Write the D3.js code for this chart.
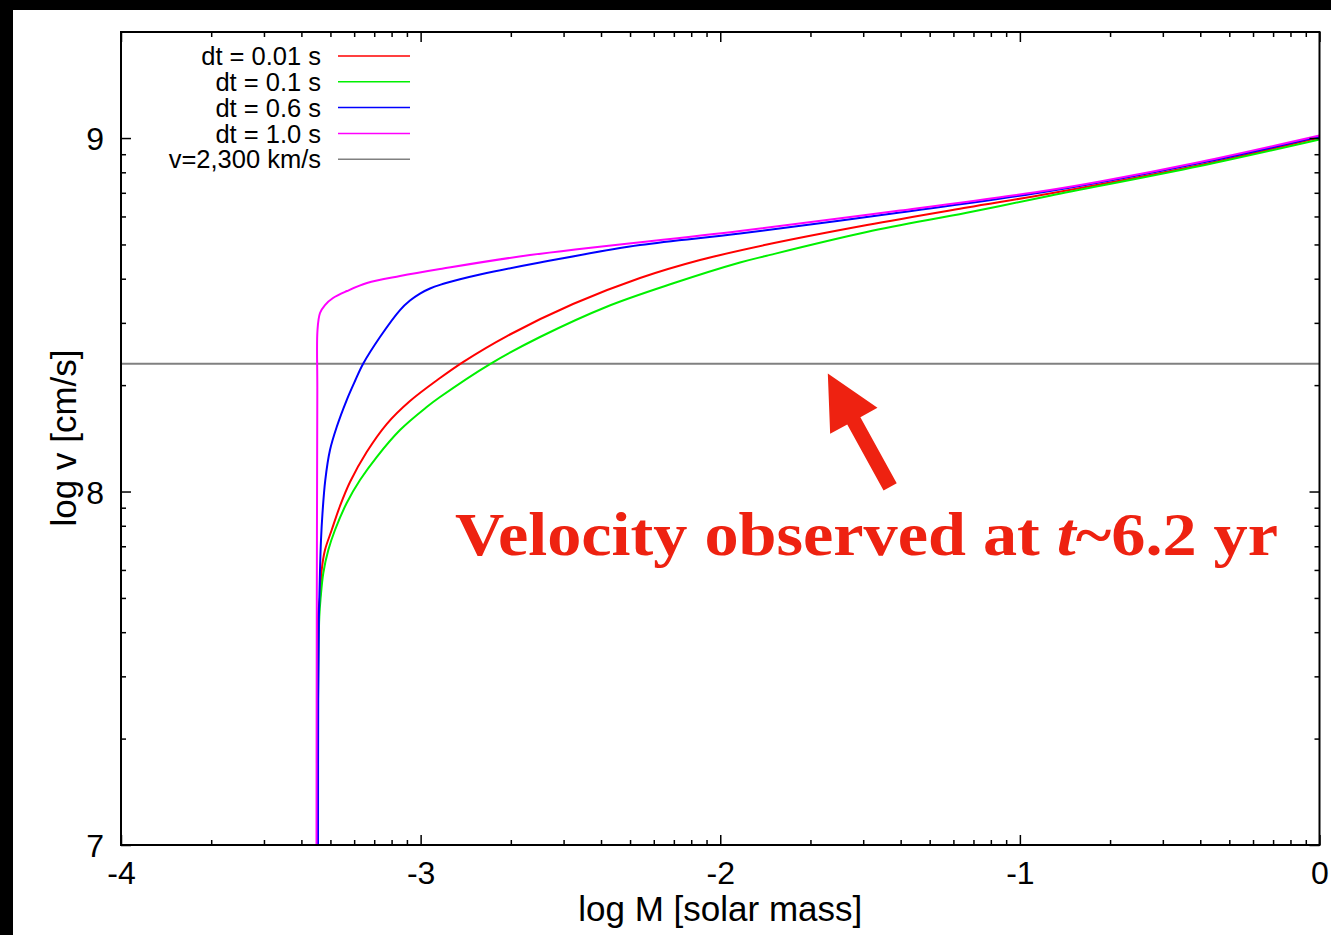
<!DOCTYPE html>
<html>
<head>
<meta charset="utf-8">
<style>
  html, body { margin: 0; padding: 0; background: #000; }
  svg { display: block; }
  text { font-family: "Liberation Sans", Arial, Helvetica, sans-serif; fill: #000; }
</style>
<title>log v vs log M</title>
</head>
<body>
<svg id="chart" width="1331" height="935"></svg>
<script src="https://cdn.jsdelivr.net/npm/d3@7/dist/d3.min.js"></script>
<script>
// axis ticks
var xMajor = [-4, -3, -2, -1, 0];
var yMajor = [7, 8, 9];
var legendLabels = ["dt = 0.01 s", "dt = 0.1 s", "dt = 0.6 s", "dt = 1.0 s", "v=2,300 km/s"];
var lineColors = ["#ff0000", "#00f000", "#0000ff", "#ff00ff", "#808080"];

// series: [log M, log v]
var dt001 = [[-3.3442,7],[-3.3435,7.4102],[-3.3415,7.6563],[-3.3358,7.7016],[-3.3302,7.7779],[-3.3192,7.8345],
  [-3.2968,7.8911],[-3.2691,7.9590],[-3.2357,8.0269],[-3.1800,8.1117],[-3.1132,8.1909],[-3.0355,8.2560],
  [-2.9353,8.3211],[-2.8586,8.3663],[-2.7117,8.4399],[-2.4915,8.5304],[-2.2678,8.6040],[-2.0676,8.6549],
  [-1.8440,8.6987],[-1.5102,8.7539],[-1.1765,8.8034],[-0.8995,8.8430],[-0.3988,8.9236],[0,9.0014]];
var dt01 = [[-3.3435,7],[-3.3425,7.4102],[-3.3382,7.6450],[-3.3335,7.7016],[-3.3248,7.7695],[-3.3081,7.8345],
  [-3.2858,7.8911],[-3.2467,7.9675],[-3.2023,8.0325],[-3.1466,8.0976],[-3.0688,8.1740],[-2.9797,8.2390],
  [-2.9353,8.2673],[-2.7685,8.3607],[-2.6016,8.4371],[-2.3790,8.5228],[-2.1567,8.5890],[-1.9341,8.6478],
  [-1.8450,8.6670],[-1.5112,8.7341],[-1.1775,8.7887],[-0.8995,8.8368],[-0.3988,8.9208],[0,8.9958]];
var dt06 = [[-3.3425,7],[-3.3418,7.4102],[-3.3398,7.6365],[-3.3358,7.7779],[-3.3325,7.8628],[-3.3275,7.9392],
  [-3.3182,8.0325],[-3.3025,8.1174],[-3.2801,8.1825],[-3.2467,8.2588],[-3.2190,8.3126],[-3.1923,8.3607],
  [-3.1356,8.4371],[-3.0688,8.5134],[-3.0355,8.5403],[-3.0021,8.5601],[-2.9687,8.5743],[-2.9353,8.5847],
  [-2.8686,8.6003],[-2.8018,8.6139],[-2.6016,8.6478],[-2.2678,8.6973],[-1.9341,8.7298],[-1.4001,8.7893],
  [-0.8995,8.8501],[-0.3988,8.9293],[0,9.0042]];
var dt10 = [[-3.3475,7],[-3.3465,7.6931],[-3.3448,8.2871],[-3.3442,8.4569],[-3.3358,8.5050],[-3.3192,8.5276],
  [-3.2924,8.5474],[-3.2457,8.5672],[-3.1790,8.5898],[-3.0688,8.6096],[-2.9353,8.6294],[-2.6350,8.6690],
  [-1.9341,8.7369],[-1.4001,8.7949],[-0.8995,8.8529],[-0.7326,8.8769],[-0.3988,8.9321],[0,9.0071]];
var vObserved = Math.log10(2.3e8);

var series = [dt001, dt01, dt06, dt10];

var svg = d3.select("#chart");
svg.append("rect").attr("x", 13).attr("y", 10).attr("width", 1331 - 13).attr("height", 935 - 10).attr("fill", "#fff");

var plotL = 121, plotR = 1319.5, plotT = 32, plotB = 845;
var x = d3.scaleLinear().domain([-4, 0]).range([plotL, plotR]);
var y = d3.scaleLinear().domain([7, 9.3]).range([plotB, plotT]);

// log-style minor ticks
var xMinor = [];
for (var d = -4; d < 0; d++) for (var k = 2; k <= 9; k++) xMinor.push(d + Math.log10(k));
var yMinor = [];
for (var d2 = 7; d2 <= 9; d2++) for (var k2 = 2; k2 <= 9; k2++) if (d2 + Math.log10(k2) < 9.3) yMinor.push(d2 + Math.log10(k2));

svg.append("defs").append("clipPath").attr("id", "plot")
  .append("rect").attr("x", plotL).attr("y", plotT).attr("width", plotR - plotL).attr("height", plotB - plotT);

// curves
var line = d3.line().x(function(p) { return x(p[0]); }).y(function(p) { return y(p[1]); })
  .curve(d3.curveCatmullRom.alpha(0.5));
var plot = svg.append("g").attr("clip-path", "url(#plot)");
plot.append("line").attr("x1", x(-4)).attr("x2", x(0)).attr("y1", y(vObserved)).attr("y2", y(vObserved))
  .attr("stroke", lineColors[4]).attr("stroke-width", 2);
plot.selectAll("path.curve").data(series).enter().append("path")
  .attr("class", "curve").attr("d", line).attr("fill", "none")
  .attr("stroke", function(s, i) { return lineColors[i]; }).attr("stroke-width", 2);

// axes (ticks inward on all sides)
function styleAxis(g) { g.select(".domain").remove(); g.selectAll(".tick line").attr("stroke", "#000").attr("stroke-width", 1.5); }
svg.append("g").attr("transform", "translate(0," + plotB + ")")
  .call(d3.axisBottom(x).tickValues(xMinor).tickSize(-5).tickFormat("")).call(styleAxis);
svg.append("g").attr("transform", "translate(0," + plotT + ")")
  .call(d3.axisTop(x).tickValues(xMinor).tickSize(-5).tickFormat("")).call(styleAxis);
svg.append("g").attr("transform", "translate(0," + plotT + ")")
  .call(d3.axisTop(x).tickValues(xMajor).tickSize(-10).tickFormat("")).call(styleAxis);
svg.append("g").attr("transform", "translate(" + plotL + ",0)")
  .call(d3.axisLeft(y).tickValues(yMinor).tickSize(-5).tickFormat("")).call(styleAxis);
svg.append("g").attr("transform", "translate(" + plotR + ",0)")
  .call(d3.axisRight(y).tickValues(yMinor).tickSize(-5).tickFormat("")).call(styleAxis);
svg.append("g").attr("transform", "translate(" + plotR + ",0)")
  .call(d3.axisRight(y).tickValues(yMajor).tickSize(-10).tickFormat("")).call(styleAxis);

var xAxis = svg.append("g").attr("transform", "translate(0," + plotB + ")")
  .call(d3.axisBottom(x).tickValues(xMajor).tickSize(-10).tickFormat(function(v) { return v === 0 ? "0" : "-" + Math.abs(v); }))
  .call(styleAxis);
xAxis.selectAll(".tick text").attr("y", 39).attr("dy", null).attr("font-size", 32)
  .style("font-family", "'Liberation Sans', Arial, sans-serif").attr("fill", "#000");

var yAxis = svg.append("g").attr("transform", "translate(" + plotL + ",0)")
  .call(d3.axisLeft(y).tickValues(yMajor).tickSize(-10).tickFormat(d3.format("d")))
  .call(styleAxis);
yAxis.selectAll(".tick text").attr("x", -17).attr("dy", "0.36em").attr("font-size", 32)
  .style("font-family", "'Liberation Sans', Arial, sans-serif").attr("fill", "#000");

// frame
svg.append("rect").attr("x", plotL).attr("y", plotT).attr("width", plotR - plotL).attr("height", plotB - plotT)
  .attr("fill", "none").attr("stroke", "#000").attr("stroke-width", 2);

// axis titles
svg.append("text").attr("x", (plotL + plotR) / 2).attr("y", 921).attr("text-anchor", "middle")
  .attr("font-size", 35).text("log M [solar mass]");
svg.append("text").attr("transform", "translate(76,438) rotate(-90)").attr("text-anchor", "middle")
  .attr("font-size", 35).text("log v [cm/s]");

// legend
var legend = svg.append("g");
legendLabels.forEach(function(lab, i) {
  var ly = 56 + i * 25.8;
  legend.append("text").attr("x", 321).attr("y", ly).attr("dy", "0.36em").attr("text-anchor", "end")
    .attr("font-size", 25.5).text(lab);
  legend.append("line").attr("x1", 338).attr("x2", 410).attr("y1", ly).attr("y2", ly)
    .attr("stroke", lineColors[i]).attr("stroke-width", 1.5);
});

// annotation arrow and text
var red = "#ee2211";
var tip = [x(-1.641), y(8.334)], tail = [x(-1.433), y(8.013)];
var adx = tail[0] - tip[0], ady = tail[1] - tip[1], alen = Math.sqrt(adx * adx + ady * ady);
var ux = adx / alen, uy = ady / alen, nx = -uy, ny = ux;
var headLen = 54, headW = 27, shaftW = 7.5;
var bx = tip[0] + ux * headLen, by = tip[1] + uy * headLen;
var pts = [
  tip,
  [bx + nx * headW, by + ny * headW],
  [bx + nx * shaftW, by + ny * shaftW],
  [tail[0] + nx * shaftW, tail[1] + ny * shaftW],
  [tail[0] - nx * shaftW, tail[1] - ny * shaftW],
  [bx - nx * shaftW, by - ny * shaftW],
  [bx - nx * headW, by - ny * headW]
];
svg.append("polygon").attr("points", pts.map(function(p) { return p.join(","); }).join(" ")).attr("fill", red);

var note = svg.append("text").attr("x", 455).attr("y", 555).attr("textLength", 823).attr("lengthAdjust", "spacingAndGlyphs")
  .style("font-family", "'Liberation Serif', 'DejaVu Serif', serif").style("font-weight", "bold")
  .attr("font-size", 62).style("fill", red);
note.append("tspan").text("Velocity observed at ");
note.append("tspan").style("font-style", "italic").text("t");
note.append("tspan").text("~6.2 yr");
</script>
</body>
</html>
